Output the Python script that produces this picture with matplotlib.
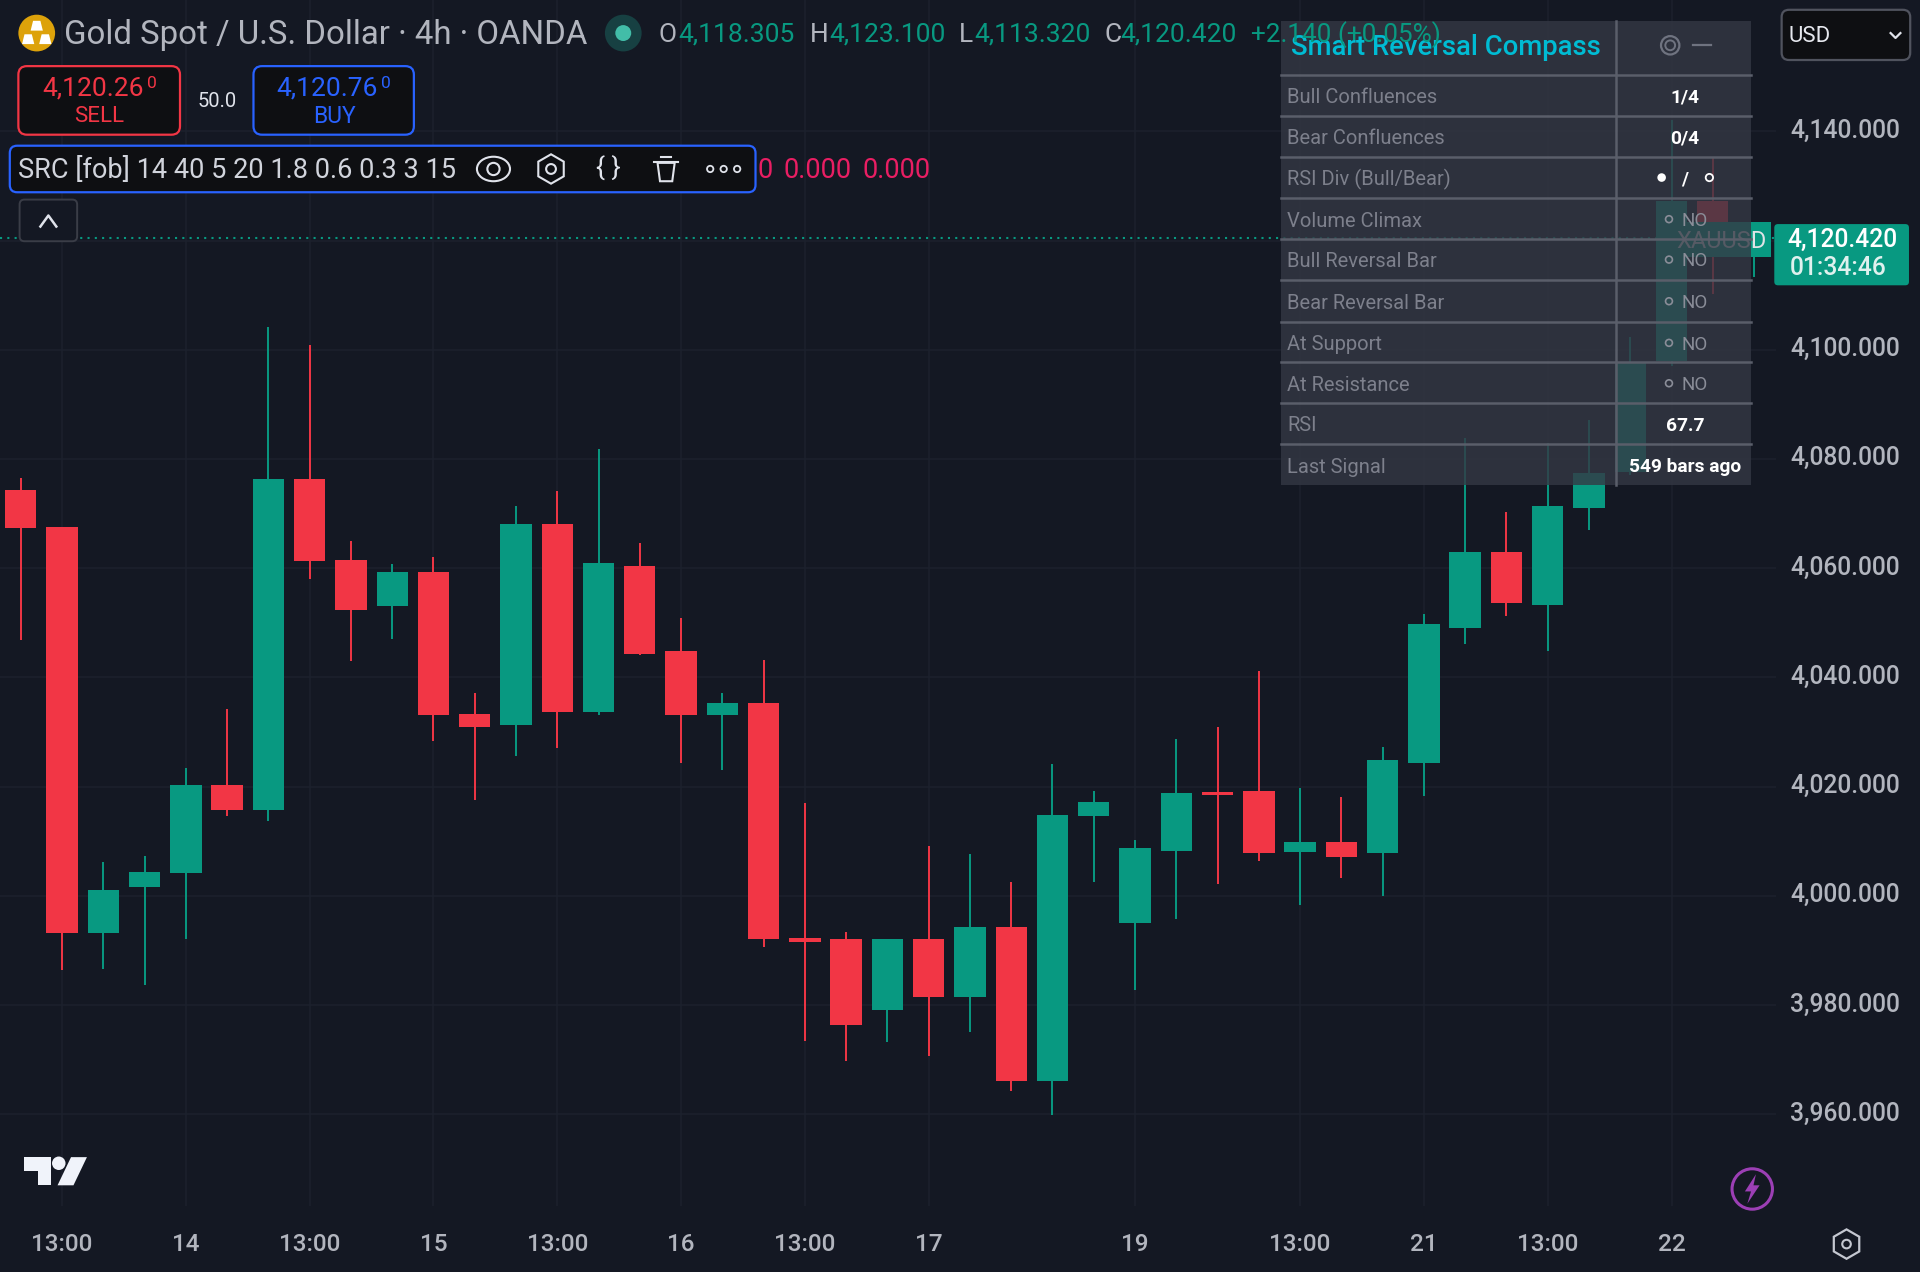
import matplotlib
matplotlib.use("Agg")
import matplotlib.pyplot as plt
from matplotlib.patches import FancyBboxPatch, Rectangle, Circle, Ellipse, RegularPolygon, Polygon
from matplotlib.transforms import ScaledTranslation

# candles
opens = [4074.4, 4067.6, 3993.2, 4001.7, 4004.2, 4020.3, 4015.8, 4076.4, 4061.6, 4053.1, 4059.3,
         4033.3, 4031.3, 4068.1, 4033.6, 4060.5, 4044.8, 4033.1, 4035.4, 3992.3, 3992.1, 3979.1,
         3992.1, 3981.5, 3994.3, 3966.1, 4014.7, 3995.0, 4008.2, 4019.0, 4019.2, 4008.0, 4009.8,
         4007.8, 4024.4, 4049.0, 4062.9, 4053.3, 4071.0, 4077.7, 4097.9, 4127.3, 4118.305]
highs = [4076.6, 4067.6, 4006.2, 4007.3, 4023.5, 4034.2, 4104.2, 4100.8, 4064.9, 4060.7, 4062.0,
         4037.1, 4071.4, 4074.1, 4081.8, 4064.7, 4050.8, 4037.1, 4043.2, 4017.0, 3993.4, 3992.1,
         4009.1, 4007.6, 4002.6, 4024.1, 4019.2, 4010.2, 4028.8, 4030.9, 4041.2, 4019.7, 4018.1,
         4027.3, 4051.7, 4083.8, 4070.3, 4082.9, 4087.1, 4102.4, 4142.1, 4135.3, 4123.1]
lows = [4046.8, 3986.5, 3986.7, 3983.6, 3992.1, 4014.7, 4013.8, 4058.0, 4043.0, 4047.0, 4028.4,
        4017.6, 4025.7, 4027.1, 4033.1, 4044.1, 4024.4, 4023.0, 3990.7, 3973.5, 3969.7, 3973.2,
        3970.6, 3975.0, 3964.3, 3959.8, 4002.6, 3982.7, 3995.7, 4002.2, 4006.4, 3998.4, 4003.3,
        3999.9, 4018.3, 4046.1, 4051.3, 4044.8, 4067.0, 4077.1, 4097.0, 4110.2, 4113.32]
closes = [4067.4, 3993.2, 4001.0, 4004.4, 4020.3, 4015.8, 4076.4, 4061.4, 4052.4, 4059.3, 4033.1,
          4030.9, 4068.1, 4033.6, 4060.9, 4044.3, 4033.1, 4035.4, 3992.1, 3991.6, 3976.4, 3992.1,
          3981.5, 3994.3, 3966.1, 4014.9, 4017.2, 4008.7, 4018.8, 4018.5, 4007.8, 4009.8, 4007.1,
          4024.8, 4049.7, 4062.9, 4053.7, 4071.4, 4077.5, 4097.5, 4127.3, 4118.1, 4120.42]

time_ticks = [1, 4, 7, 10, 13, 16, 19, 22, 27, 31, 34, 37, 40]
time_labels = ["13:00", "14", "13:00", "15", "13:00", "16", "13:00", "17", "19", "13:00", "21", "13:00", "22"]
price_ticks = [3960, 3980, 4000, 4020, 4040, 4060, 4080, 4100, 4120, 4140]
# 4,120 is hidden behind the last price tag
price_labels = ["3,960.000", "3,980.000", "4,000.000", "4,020.000", "4,040.000", "4,060.000",
                "4,080.000", "4,100.000", "", "4,140.000"]
last_price = 4120.42

panel_labels = ["Bull Confluences", "Bear Confluences", "RSI Div (Bull/Bear)", "Volume Climax",
                "Bull Reversal Bar", "Bear Reversal Bar", "At Support", "At Resistance", "RSI", "Last Signal"]
panel_values = ["1/4", "0/4", None, "NO", "NO", "NO", "NO", "NO", "67.7", "549 bars ago"]

BG = "#141823"
GREEN = "#089981"
RED = "#F23645"
BLUE = "#2962FF"
GREY = "#B2B5BE"
NARROW = ["Liberation Sans Narrow", "Roboto", "DejaVu Sans"]
AXIS_FONT = ["Roboto", "DejaVu Sans"]

fig = plt.figure(figsize=(19.2, 12.72), dpi=100, facecolor=BG)

# price pane, right edge at 1450 and bottom at 985 of the 1568 wide picture
ax = fig.add_axes([0, 1 - 985 / 1038.8, 1450 / 1568, 985 / 1038.8], facecolor=BG)
ax.set_xlim(-0.504, 42.52)
ax.set_ylim(3943.2, 4164.05)
for s in ax.spines.values():
    s.set_visible(False)
ax.grid(True, color="#1c212d", linewidth=1.1, zorder=0)
ax.set_axisbelow(True)
ax.yaxis.tick_right()
ax.set_yticks(price_ticks)
ax.set_yticklabels(price_labels, family=AXIS_FONT, fontsize=17.7, color=GREY, weight="medium")
ax.set_xticks(time_ticks)
ax.set_xticklabels(time_labels, family=AXIS_FONT, fontsize=17.5, color=GREY, weight="medium")
ax.tick_params(axis="y", length=0, pad=10.5)
ax.tick_params(axis="x", length=0, pad=19)
# the scale text sits a little above its grid line
for lab in ax.get_yticklabels():
    lab.set_transform(lab.get_transform() + ScaledTranslation(0, 0.033, fig.dpi_scale_trans))

for i in range(len(opens)):
    col = GREEN if closes[i] >= opens[i] else RED
    ax.vlines(i, lows[i], highs[i], color=col, linewidth=1.4, zorder=2)
    ax.bar(i, abs(closes[i] - opens[i]), bottom=min(opens[i], closes[i]), width=0.76, color=col,
           linewidth=0, zorder=3)
ax.axhline(last_price, color=GREEN, linewidth=1.5, linestyle=(0, (1, 2.5)), zorder=1)

# everything else sits on an overlay in picture pixels
ov = fig.add_axes([0, 0, 1, 1])
ov.set_xlim(0, 1568)
ov.set_ylim(1038.8, 0)
ov.axis("off")


def txt(x, y, s, size=17, color=GREY, ha="left", family=NARROW, weight="normal", z=20, alpha=None):
    return ov.text(x, y + 1.5, s, fontsize=size, color=color, ha=ha, va="center", family=family,
                   weight=weight, zorder=z, alpha=alpha)


def box(x0, y0, x1, y1, edge, face="#0e0f12", r=7, lw=1.6, z=10):
    ov.add_patch(FancyBboxPatch((x0, y0), x1 - x0, y1 - y0, boxstyle=f"round,pad=0,rounding_size={r}",
                                facecolor=face, edgecolor=edge, linewidth=lw, zorder=z))


# last price tags under the panel
ov.add_patch(Rectangle((1362, 181), 84, 29, facecolor=GREEN, linewidth=0, zorder=5))
txt(1369, 196, "XAUUSD", size=17, color="#dfe3e6", family=AXIS_FONT, z=6)
box(1449, 183, 1559, 233, GREEN, face=GREEN, r=3, lw=0, z=10)
txt(1505, 194, "4,120.420", size=17.7, color="white", ha="center", family=AXIS_FONT, weight="medium")
txt(1462, 217, "01:34:46", size=17.7, color="#dff1ee", family=AXIS_FONT, weight="medium")

# panel
ov.add_patch(Rectangle((1046, 17), 384, 379, facecolor="#343844", alpha=0.8, linewidth=0, zorder=7))
for y in [61, 95, 128, 162, 195, 229, 263, 296, 329, 363]:
    ov.plot([1046, 1430], [y, y], color="#5a5e6a", linewidth=1.8, zorder=8)
ov.plot([1320, 1320], [17, 396], color="#5a5e6a", linewidth=1.8, zorder=8)
txt(1054, 37, "Smart Reversal Compass", size=19.8, color="#00BCD4", family=AXIS_FONT, weight="medium", z=9)
ov.add_patch(Circle((1364, 37), 7.5, fill=False, edgecolor="#6f7380", linewidth=1.6, zorder=9))
ov.add_patch(Circle((1364, 37), 4, fill=False, edgecolor="#6f7380", linewidth=1.4, zorder=9))
ov.plot([1383, 1397], [37, 37], color="#6f7380", linewidth=1.6, zorder=9)
row_y = [78, 112, 145, 179, 212, 246, 280, 313, 346, 380]
for y, lab, val in zip(row_y, panel_labels, panel_values):
    txt(1051, y, lab, size=14.5, color="#7d808c", family=AXIS_FONT, z=9)
    if val == "NO":
        ov.add_patch(Circle((1363, y), 2.8, fill=False, edgecolor="#8a8d98", linewidth=1.2, zorder=9))
        txt(1384, y, val, size=13.5, color="#8a8d98", ha="center", family=AXIS_FONT, z=9)
    elif val is not None:
        txt(1376, y, val, size=13.8, color="white", ha="center", family=AXIS_FONT, weight="bold", z=9)
ov.add_patch(Circle((1357, 145), 3.5, facecolor="white", linewidth=0, zorder=9))
txt(1376, 145, "/", size=13.5, color="white", ha="center", family=AXIS_FONT, weight="bold", z=9)
ov.add_patch(Circle((1396, 145), 3, fill=False, edgecolor="white", linewidth=1.3, zorder=9))

# header line
ov.add_patch(Circle((30, 27), 15, facecolor="#DDA20A", linewidth=0, zorder=10))
for cx, cy in [(30, 21), (23, 32), (37, 32)]:
    ov.add_patch(Polygon([(cx - 5, cy + 4), (cx + 5, cy + 4), (cx + 3, cy - 4), (cx - 3, cy - 4)],
                         facecolor="white", linewidth=0, zorder=11))
txt(52, 27, "Gold Spot / U.S. Dollar · 4h · OANDA", size=23.8)
ov.add_patch(Circle((509, 27), 15, facecolor="#174042", linewidth=0, zorder=10))
ov.add_patch(Circle((509, 27), 6.5, facecolor="#42BDA8", linewidth=0, zorder=11))
for x, lab in [(538, "O"), (661, "H"), (783, "L"), (902, "C")]:
    txt(x, 27, lab, size=19)
for x, val in [(554, "4,118.305"), (677, "4,123.100"), (796, "4,113.320"), (915, "4,120.420")]:
    txt(x, 27, val, size=19, color=GREEN)
txt(1022, 27, "+2.140 (+0.05%)", size=18.8, color=GREEN)

# sell / buy
box(15, 54, 147, 110, RED)
txt(76, 71, "4,120.26", size=19, color=RED, ha="center", family=AXIS_FONT)
txt(124, 67, "0", size=12.5, color=RED, ha="center", family=AXIS_FONT)
txt(81, 94, "SELL", size=16, color=RED, ha="center", family=AXIS_FONT)
txt(177, 81, "50.0", size=14.5, color="#e0e3eb", ha="center", family=AXIS_FONT)
box(207, 54, 338, 110, BLUE)
txt(267, 71, "4,120.76", size=19, color=BLUE, ha="center", family=AXIS_FONT)
txt(315, 67, "0", size=12.5, color=BLUE, ha="center", family=AXIS_FONT)
txt(273, 94, "BUY", size=16.5, color=BLUE, ha="center", family=AXIS_FONT)

# indicator row
box(8, 119, 617, 157, BLUE, r=6)
txt(15, 138, "SRC [fob] 14 40 5 20 1.8 0.6 0.3 3 15", size=19.5, color="#d1d4dc")
ic = "#e0e3eb"
ov.add_patch(Ellipse((403, 138), 27, 20, fill=False, edgecolor=ic, linewidth=1.5, zorder=11))
ov.add_patch(Circle((403, 138), 5, fill=False, edgecolor=ic, linewidth=1.5, zorder=11))
ov.add_patch(RegularPolygon((450, 138), 6, radius=12, fill=False, edgecolor=ic, linewidth=1.5, zorder=11))
ov.add_patch(Circle((450, 138), 4, fill=False, edgecolor=ic, linewidth=1.5, zorder=11))
txt(497, 136, "{ }", size=19, color=ic, ha="center", family=AXIS_FONT)
ov.add_patch(Polygon([(537, 133), (551, 133), (549, 148), (539, 148)], fill=False, edgecolor=ic,
                     linewidth=1.5, zorder=11))
ov.plot([534, 554], [132, 132], color=ic, linewidth=1.5, zorder=11)
ov.plot([540, 548], [128, 128], color=ic, linewidth=1.5, zorder=11)
for cx in [580, 591, 602]:
    ov.add_patch(Circle((cx, 138), 2.6, fill=False, edgecolor=ic, linewidth=1.3, zorder=11))
txt(619, 138, "0", size=19.5, color="#E91E63")
txt(640, 138, "0.000", size=19.5, color="#E91E63")
txt(704, 138, "0.000", size=19.5, color="#E91E63")

# collapse button
box(16, 163, 63, 197, "#3a3d47", face=BG, r=4, lw=1.4)
ov.plot([33, 39.5, 46], [185, 176, 185], color="#e0e3eb", linewidth=1.8, zorder=11)

# currency box
box(1455, 8, 1560, 49, "#50535e", r=6)
txt(1461, 28, "USD", size=16, color="#e6e8ee", family=AXIS_FONT)
ov.plot([1544, 1548, 1552], [27, 31, 27], color="#e0e3eb", linewidth=1.6, zorder=11)

# logo
ov.add_patch(Polygon([(20, 945), (42, 945), (42, 968), (31, 968), (31, 956), (20, 956)],
                     facecolor="#f0f3fa", linewidth=0, zorder=11))
ov.add_patch(Circle((48, 950), 5.5, facecolor="#f0f3fa", linewidth=0, zorder=11))
ov.add_patch(Polygon([(58, 945), (71, 945), (60, 968), (47, 968)], facecolor="#f0f3fa", linewidth=0, zorder=11))

# bottom right icons
ov.add_patch(Circle((1431, 971), 16.5, fill=False, edgecolor="#9C3FB5", linewidth=2.2, zorder=11))
ov.add_patch(Polygon([(1434, 959), (1425, 973), (1430, 973), (1427, 983), (1437, 968), (1432, 968)],
                     facecolor="#9C3FB5", linewidth=0, zorder=12))
ov.add_patch(RegularPolygon((1508, 1016), 6, radius=12, fill=False, edgecolor="#c4c7d0", linewidth=1.6, zorder=11))
ov.add_patch(Circle((1508, 1016), 3.5, fill=False, edgecolor="#c4c7d0", linewidth=1.5, zorder=11))

fig.savefig("out.png", dpi=100, facecolor=BG)
